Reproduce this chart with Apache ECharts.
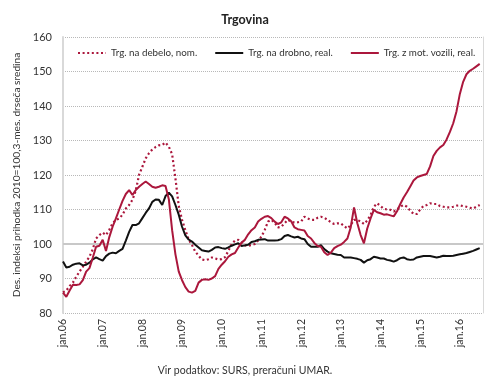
<!DOCTYPE html>
<html>
<head>
<meta charset="utf-8">
<script src="https://cdn.jsdelivr.net/npm/echarts@6/dist/echarts.min.js"></script>
<style>
html,body{margin:0;padding:0;background:#fff;}
#c{width:490px;height:383px;}
</style>
</head>
<body>
<div id="c"></div>
<script>
// Tick label parts
var monthNames = ['jan','feb','mar','apr','maj','jun','jul','avg','sep','okt','nov','dec'];
var years = ['06','07','08','09','10','11','12','13','14','15','16'];
var yTicks = [80, 90, 100, 110, 120, 130, 140, 150, 160];

// Series names
var seriesNames = ['Trg. na debelo, nom.', 'Trg. na drobno, real.', 'Trg. z mot. vozili, real.'];

// Trg. na debelo, nom. (monthly from jan.06)
var debelo = [86,86.5,87.8,88.8,90.5,92,93.4,94.9,96.3,98.5,101.6,102.6,
103.3,102.6,104.1,106,107,107.4,108.5,110.3,111.3,112.8,115.5,120,
122.4,124.8,126.3,127.4,128.1,128.6,128.7,129.4,128.2,126,119,111,
107,104,101.3,99.7,97.8,96.6,95.5,95.3,95.6,96.1,95.8,95.5,
95.6,96.2,98,100,101,101.2,100.4,99.6,99.5,99.7,100,101,
102.1,104.1,106.5,107,106.2,104.8,105,106,107,106.5,106.2,106.3,
106.5,107.9,107.4,107,107,107.6,107.9,107.6,107,106.3,105.8,106,
106,105.2,104.5,105.5,107,107,106.5,105.8,106.8,108.4,110.8,111.8,
111,110.2,110,109.9,109.4,110,110.8,111.3,110.8,109.7,108.7,108.7,
110,111,111.3,111.8,111.6,111.6,111,110.8,110.6,110.6,110.8,111.1,
111.2,111,110.8,110.5,110.3,110.8,111.3];

// Trg. na drobno, real.
var drobno = [94.9,93.2,93.4,94,94.3,94.4,93.8,94,94.6,95.5,96.1,95.6,
95.2,96.5,97.2,97.5,97.3,98,98.6,101,103.5,105.5,105.5,106,
107.5,109,110.3,112.2,112.9,112.8,111.3,113.9,114.9,113.8,111.3,108.5,
105,102.5,101.3,100.7,99.8,99,98.2,98,97.8,98.3,99,99.1,
98.8,98.6,99,99.5,99.9,100.2,99.4,99.6,99.8,100.6,100.8,101.2,
101.3,101.4,101,101,101,101.1,101.4,102.3,102.6,102.2,101.9,102.1,
101.6,101.4,100,99.2,99.2,99.2,99.7,98.5,97.8,97.3,97.1,96.9,
96.8,96.1,96.1,96.1,95.9,95.7,95.4,94.6,95.3,95.6,96.3,96.1,
95.8,95.8,95.4,95.2,94.9,95.3,95.9,96.1,95.6,95.4,95.5,96.1,
96.3,96.5,96.5,96.5,96.3,96.1,96.3,96.6,96.5,96.5,96.6,96.8,
97,97.2,97.4,97.7,98,98.4,98.8];

// Trg. z mot. vozili, real.
var vozili = [85.9,84.7,86.5,88.2,88.1,88.3,89.5,92,93,96,99.2,99.5,
101.2,98,102,105,107.4,110,112.5,114.5,115.6,114.2,115.6,116.6,
117.4,118.1,117.4,116.6,116.3,116.6,117,116.8,113,104,97,92,
89.5,87.5,86.2,85.9,86.4,88.8,89.6,89.8,89.6,90,90.7,92.8,
94,95,96.3,97,97.4,99,100.4,101.2,102.8,104,104.8,106.5,
107.3,107.9,108.1,107.5,106.5,105.8,106.3,107.9,107.4,106.6,104.8,104.3,
104.1,103.9,102.3,101.6,100.3,99.4,99.2,97.6,96.8,97.5,98.8,99.4,
99.8,100.6,101.6,104.8,110.6,106,102.6,100.2,104.5,107.4,109.9,109.2,
108.9,108.5,108.6,108.3,108,109.5,111.6,113.5,115,116.7,118.4,119.3,
119.7,120,120.3,122.5,125.5,127,128,128.7,130.3,132.5,135,138.5,
143.5,147,149.2,150.2,150.8,151.5,152.2];

var categories = [];
for (var yi = 0; yi < years.length; yi++) {
  for (var mi = 0; mi < 12; mi++) {
    if (yi === years.length - 1 && mi > 7) break;
    categories.push(monthNames[mi] + '.' + years[yi]);
  }
}

var RED = '#ab173c';
var FONT = 'Lato, "Open Sans", "DejaVu Sans", sans-serif';

var chart = echarts.init(document.getElementById('c'), null, {renderer: 'canvas'});
chart.setOption({
  animation: false,
  backgroundColor: '#fff',
  textStyle: {fontFamily: FONT},
  title: {
    text: 'Trgovina',
    left: 'center',
    top: 8,
    textStyle: {fontSize: 12.5, fontWeight: 'bold', color: '#222', fontFamily: FONT}
  },
  legend: {
    top: 43,
    left: 72,
    itemWidth: 28,
    itemHeight: 8,
    itemGap: 17,
    backgroundColor: '#fff',
    itemStyle: {opacity: 0},
    textStyle: {fontSize: 9.8, color: '#333', fontFamily: FONT},
    data: seriesNames
  },
  grid: {left: 63, right: 7, top: 37, bottom: 70, containLabel: false},
  xAxis: {
    type: 'category',
    boundaryGap: false,
    data: categories,
    axisLine: {show: false},
    axisTick: {show: false},
    axisLabel: {
      interval: 11,
      rotate: 90,
      fontSize: 10.5,
      color: '#333',
      margin: 6,
      fontFamily: FONT
    },
    splitLine: {show: false}
  },
  yAxis: [{
    type: 'value',
    min: yTicks[0],
    max: yTicks[yTicks.length - 1],
    interval: 10,
    name: 'Des. indeksi prihodka 2010=100,3-mes. drseča sredina',
    nameLocation: 'middle',
    nameGap: 38,
    nameRotate: 90,
    nameTextStyle: {fontSize: 10.2, color: '#333', fontFamily: FONT},
    axisLine: {show: true, lineStyle: {color: '#d9d9d9', width: 2}},
    axisTick: {show: false},
    axisLabel: {fontSize: 11, color: '#333', margin: 11, fontFamily: FONT},
    splitLine: {show: true, lineStyle: {color: '#b8b8b8', type: [1, 1], width: 1}}
  }, {
    type: 'value',
    min: yTicks[0],
    max: yTicks[yTicks.length - 1],
    interval: 10,
    position: 'right',
    axisLine: {show: true, lineStyle: {color: '#d9d9d9', width: 1}},
    axisTick: {show: false},
    axisLabel: {show: false},
    splitLine: {show: false}
  }],
  series: [{
    name: seriesNames[0],
    type: 'line',
    data: debelo,
    showSymbol: false,
    symbol: 'none',
    lineStyle: {color: RED, width: 2.2, type: [2, 2.6], cap: 'butt'},
    itemStyle: {color: RED},
    z: 3,
    markLine: {
      silent: true,
      symbol: 'none',
      label: {show: false},
      lineStyle: {color: '#c8c8c8', width: 2, type: 'solid'},
      data: [{yAxis: 100}],
      z: 1
    }
  }, {
    name: seriesNames[1],
    type: 'line',
    data: drobno,
    showSymbol: false,
    symbol: 'none',
    lineStyle: {color: '#111', width: 2},
    itemStyle: {color: '#111'},
    z: 4
  }, {
    name: seriesNames[2],
    type: 'line',
    data: vozili,
    showSymbol: false,
    symbol: 'none',
    lineStyle: {color: RED, width: 2},
    itemStyle: {color: RED},
    z: 5
  }],
  graphic: [{
    type: 'text',
    left: 'center',
    top: 365,
    style: {text: 'Vir podatkov: SURS, preračuni UMAR.', fontSize: 10.5, fill: '#333', fontFamily: FONT}
  }]
});
</script>
</body>
</html>
